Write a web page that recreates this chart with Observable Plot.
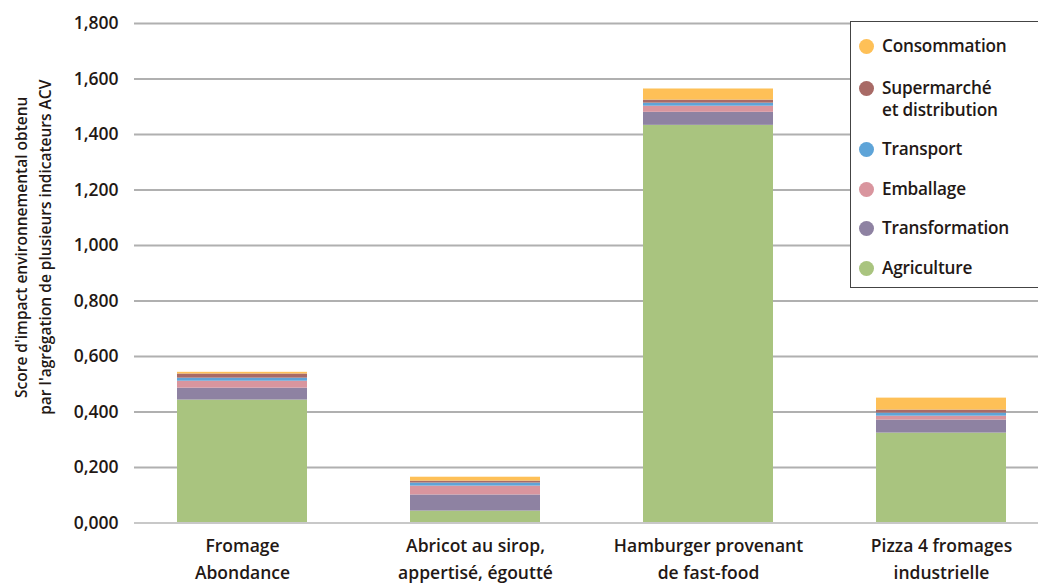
<!DOCTYPE html>
<html>
<head>
<meta charset="utf-8">
<script src="https://cdn.jsdelivr.net/npm/d3@7"></script>
<script src="https://cdn.jsdelivr.net/npm/@observablehq/plot@0.6"></script>
<style>
  html, body { margin: 0; padding: 0; background: #fff; }
  #wrap { position: relative; width: 1038px; height: 584px; overflow: hidden; font-family: "Open Sans", sans-serif; }
  #legend { position: absolute; left: 850px; top: 21px; width: 200px; height: 267px; background: #fff; border: 1px solid #444; box-sizing: border-box; }
  .item { position: absolute; left: 8px; display: flex; align-items: flex-start; font-size: 17.2px; font-weight: 600; color: #231815; line-height: 22px; letter-spacing: -0.2px; }
  .dot { width: 15px; height: 15px; border-radius: 50%; margin-right: 8px; margin-top: 3.5px; flex: none; }
</style>
</head>
<body>
<div id="wrap"><div id="chart"></div><div id="legend"></div></div>
<script>
const products = ["Fromage\nAbondance", "Abricot au sirop,\nappertisé, égoutté", "Hamburger provenant\nde fast-food", "Pizza 4 fromages\nindustrielle"];
const stages = ["Agriculture", "Transformation", "Emballage", "Transport", "Supermarché et distribution", "Consommation"];
const stageColors = ["#a9c47f", "#8e82a2", "#d9959e", "#5ea4d8", "#a86a66", "#fec057"];
// values per stage, in product order
const agriculture    = [0.443, 0.043, 1.433, 0.324];
const transformation = [0.043, 0.058, 0.047, 0.047];
const emballage      = [0.025, 0.032, 0.022, 0.014];
const transport      = [0.011, 0.011, 0.011, 0.011];
const supermarche    = [0.015, 0.007, 0.011, 0.011];
const consommation   = [0.006, 0.014, 0.040, 0.043];
const yTicks = [0, 0.2, 0.4, 0.6, 0.8, 1.0, 1.2, 1.4, 1.6, 1.8];
const legendLabels = ["Consommation", "Supermarché\net distribution", "Transport", "Emballage", "Transformation", "Agriculture"];
const yTitle = "Score d'impact environnemental obtenu\npar l'agrégation de plusieurs indicateurs ACV";

const series = [agriculture, transformation, emballage, transport, supermarche, consommation];
const data = [];
stages.forEach((s, i) => products.forEach((p, j) => data.push({product: p, stage: s, value: series[i][j]})));

const fmt = v => d3.format(".3f")(v).replace(".", ",");

const chart = Plot.plot({
  width: 1038,
  height: 584,
  marginTop: 23,
  marginBottom: 61.5,
  marginLeft: 134,
  marginRight: 0,
  style: {fontFamily: "'Open Sans', sans-serif", fontSize: "15px", color: "#231815", background: "#fff"},
  x: {domain: products, range: [72.6, 1109.3], padding: 0.443, label: null},
  y: {domain: [0, 1.8], label: null},
  color: {domain: stages, range: stageColors},
  marks: [
    Plot.ruleY(yTicks.filter(d => d > 0), {stroke: "#b0b0b0", strokeWidth: 2}),
    Plot.barY(data, {x: "product", y: "value", fill: "stage"}),
    Plot.ruleY([0], {stroke: "#c8c8c8", strokeWidth: 2}),
    Plot.axisY({ticks: yTicks, tickFormat: fmt, tickSize: 0, tickPadding: 16, fontSize: 17.5, fontWeight: 600, label: null}),
    Plot.axisX({tickSize: 0, tickPadding: 10, fontSize: 17.5, fontWeight: 600, lineHeight: 1.55, label: null}),
    Plot.text([yTitle], {frameAnchor: "left", textAnchor: "middle", rotate: -90, dx: -103, dy: -26, fontSize: 15.5, fontWeight: 600, lineHeight: 1.5, fill: "#231815"})
  ]
});
document.getElementById("chart").appendChild(chart);

const legend = document.getElementById("legend");
const tops = [13, 55, 116, 156, 195, 235];
legendLabels.forEach((lab, i) => {
  const idx = stages.length - 1 - i;
  const it = document.createElement("div");
  it.className = "item";
  it.style.top = tops[i] + "px";
  const dot = document.createElement("span");
  dot.className = "dot";
  dot.style.background = stageColors[idx];
  const t = document.createElement("span");
  t.innerHTML = lab.replace("\n", "<br>");
  it.appendChild(dot); it.appendChild(t);
  legend.appendChild(it);
});
</script>
</body>
</html>
